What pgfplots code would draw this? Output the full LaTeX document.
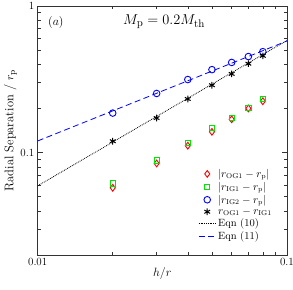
\documentclass[border=0pt]{standalone}
\usepackage{pgfplots}
\pgfplotsset{compat=1.18}
\begin{document}
\begin{tikzpicture}
\begin{axis}[
  at={(0,0)}, anchor=south west,
  scale only axis, width=249.3pt, height=249pt,
  xmode=log, ymode=log,
  xmin=0.01, xmax=0.1, ymin=0.02, ymax=1,
  xtick={0.01,0.1}, xticklabels={0.01,0.1},
  ytick={0.1,1}, yticklabels={0.1,1},
  minor xtick={0.02,0.03,0.04,0.05,0.06,0.07,0.08,0.09},
  minor ytick={0.03,0.04,0.05,0.06,0.07,0.08,0.09,0.2,0.3,0.4,0.5,0.6,0.7,0.8,0.9},
  tick align=inside, xtick pos=both, ytick pos=both,
  major tick length=5pt, minor tick length=3pt,
  axis line style={black!80, line width=0.5pt},
  every tick/.style={black!80, line width=0.5pt},
  tick label style={font=\fontsize{11}{13}\selectfont},
  xlabel={$h/r$},
  ylabel={Radial Separation / $r_\mathrm{p}$},
  xlabel style={font=\fontsize{13}{15}\selectfont, at={(axis description cs:0.5,-0.076)}, anchor=center},
  ylabel style={font=\fontsize{12.5}{15}\selectfont, at={(axis description cs:-0.109,0.5)}, anchor=center},
  legend style={at={(axis description cs:0.96,0.04)}, anchor=south east, draw=none, fill=none,
    font=\fontsize{10.5}{12}\selectfont, row sep=-0.8pt},
  legend cell align=left,
  clip=true,
]
\addplot[only marks, mark=diamond, mark size=3.4pt, color=red, mark options={line width=0.9pt}]
  coordinates {(0.02,0.0575)(0.03,0.0843)(0.04,0.1114)(0.05,0.1385)(0.06,0.1686)(0.07,0.200)(0.08,0.224)};
\addlegendentry{$|r_\mathrm{OG1}-r_\mathrm{p}|$}
\addplot[only marks, mark=square, mark size=2.6pt, color={rgb,255:red,0;green,230;blue,0}, mark options={line width=0.9pt}]
  coordinates {(0.02,0.0615)(0.03,0.0883)(0.04,0.117)(0.05,0.1466)(0.06,0.173)(0.07,0.201)(0.08,0.231)};
\addlegendentry{$|r_\mathrm{IG1}-r_\mathrm{p}|$}
\addplot[only marks, mark=o, mark size=3.3pt, color=blue, mark options={line width=0.9pt}]
  coordinates {(0.02,0.186)(0.03,0.253)(0.04,0.315)(0.05,0.368)(0.06,0.412)(0.07,0.452)(0.08,0.488)};
\addlegendentry{$|r_\mathrm{IG2}-r_\mathrm{p}|$}
\addplot[only marks, mark=asterisk, mark size=3.3pt, color=black, mark options={line width=1pt}]
  coordinates {(0.02,0.1195)(0.03,0.172)(0.04,0.232)(0.05,0.288)(0.06,0.344)(0.07,0.404)(0.08,0.457)};
\addlegendentry{$r_\mathrm{OG1}-r_\mathrm{IG1}$}
\addplot[black, densely dotted, line width=0.8pt]
  coordinates {(0.01,0.0593)(0.1,0.582)};
\addlegendentry{Eqn (10)}
\addplot[blue, dash pattern=on 6pt off 3.5pt, line width=0.8pt]
  coordinates {(0.01,0.120)(0.1,0.577)};
\addlegendentry{Eqn (11)}
\node[font=\fontsize{11.5}{14}\selectfont] at (axis description cs:0.073,0.935) {$(a)$};
\node[font=\fontsize{15}{18}\selectfont] at (axis description cs:0.507,0.937) {$M_\mathrm{p}=0.2M_\mathrm{th}$};
\end{axis}
\pgfresetboundingbox
\path (-37.7pt,-35pt) rectangle (255.3pt,255pt);
\end{tikzpicture}
\end{document}
